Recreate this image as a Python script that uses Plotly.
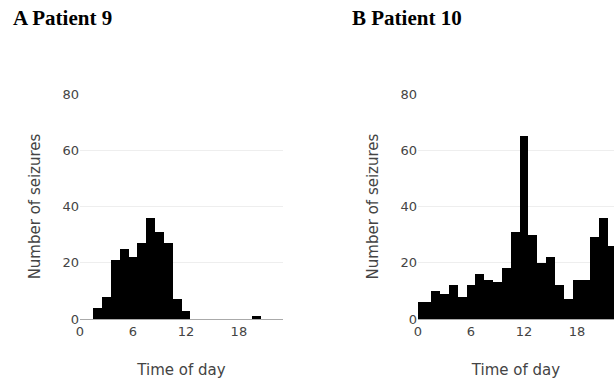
import plotly.graph_objects as go
from plotly.subplots import make_subplots

# Patient 9: hour of day -> number of seizures
p9_hours = [2, 3, 4, 5, 6, 7, 8, 9, 10, 11, 12, 20]
p9_counts = [4, 8, 21, 25, 22, 27, 36, 31, 27, 7, 3, 1]

# Patient 10: hour of day -> number of seizures
p10_hours = [0, 1, 2, 3, 4, 5, 6, 7, 8, 9, 10, 11, 12, 13, 14, 15, 16, 17, 18, 19, 20, 21, 22]
p10_counts = [6, 6, 10, 9, 12, 8, 12, 16, 14, 13, 18, 31, 65, 30, 20, 22, 12, 7, 14, 14, 29, 36, 26]

x_ticks = [0, 6, 12, 18]
y_ticks = [0, 20, 40, 60, 80]
titles = ["A Patient 9", "B Patient 10"]

W, H = 614, 379
ml, mt, mb = 80, 94, 60
pw = W - ml
ph = H - mt - mb

fig = make_subplots(rows=1, cols=2)
fig.add_trace(go.Bar(x=p9_hours, y=p9_counts, width=1, marker=dict(color="black", line=dict(width=0))), 1, 1)
fig.add_trace(go.Bar(x=p10_hours, y=p10_counts, width=1, marker=dict(color="black", line=dict(width=0))), 1, 2)

font = "DejaVu Sans, Verdana, sans-serif"
axis_common = dict(tickfont=dict(family=font, size=13, color="#444"),
                   title_font=dict(family=font, size=15, color="#444"))
fig.update_xaxes(tickvals=x_ticks, showgrid=False, zeroline=False, showline=True,
                 linecolor="#aaaaaa", linewidth=1, ticks="",
                 title=dict(text="Time of day", standoff=28), **axis_common)
fig.update_yaxes(tickvals=y_ticks, range=[0, 80], showgrid=True, gridcolor="#eeeeee",
                 zeroline=False, ticks="", title=dict(text="Number of seizures", standoff=18),
                 **axis_common)
fig.update_layout(
    xaxis=dict(domain=[0, 203 / pw], range=[0, 23]),
    xaxis2=dict(domain=[338 / pw, 1], range=[0, 22.2]),
)

title_font = dict(family="Liberation Serif, Times New Roman, serif", size=21, color="black")
fig.add_annotation(text="<b>" + titles[0] + "</b>", xref="paper", yref="paper",
                   x=(10.5 - ml) / pw, y=1 + (mt - 4) / ph, xanchor="left", yanchor="top",
                   showarrow=False, font=title_font)
fig.add_annotation(text="<b>" + titles[1] + "</b>", xref="paper", yref="paper",
                   x=(349.5 - ml) / pw, y=1 + (mt - 4) / ph, xanchor="left", yanchor="top",
                   showarrow=False, font=title_font)

fig.update_layout(width=W, height=H, margin=dict(l=ml, r=0, t=mt, b=mb, autoexpand=False),
                  showlegend=False, bargap=0, plot_bgcolor="white", paper_bgcolor="white")
fig.write_html("out.html")
